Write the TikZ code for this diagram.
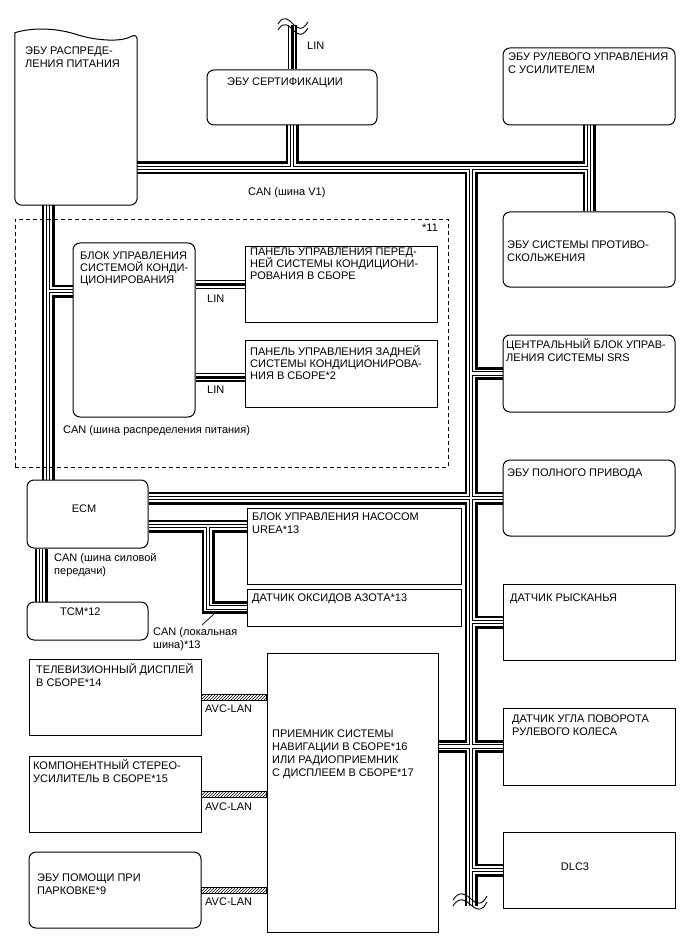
\documentclass[tikz,border=0pt]{standalone}
\usepackage{fontspec}
\setmainfont{Liberation Sans}
\usetikzlibrary{fit, patterns, backgrounds, calc}

% bus segments, drawn layer by layer so that junctions merge
\newcommand\canpaths{%
  (pd.east |- v1) -- (eps.south |- v1)
  (eps.south) -- (skid.north)
  (cert.south) -- (cert.south |- v1)
  (v1) -- (vend)
  (v1 |- srs.west) -- (srs.west)
  (ecm.east |- awd.west) -- (awd.west)
  (v1 |- yaw.west) -- (yaw.west)
  (nav.east |- angle.west) -- (angle.west)
  (v1 |- dlc.west) -- (dlc.west)
  (pd.south -| vL) -- (ecm.north -| vL)
  (vL) -- (ac.west |- vL)
  (ecm.south -| vT) -- (tcm.north -| vT)
  (ecm.east |- loc) -- (urea.west |- loc)
  (loc) |- (nox.west)}
\newcommand\linpaths{%
  (cert.north) -- (cert.north |- linTop)
  (ac.east |- front.west) -- (front.west)
  (ac.east |- linR) -- (rear.west |- linR)}

\begin{document}
\begin{tikzpicture}[x=1pt, y=-1pt,
    font=\fontsize{11}{13}\selectfont,
    ecu/.style  = {draw, line width=1pt, fill=white, rounded corners=7pt,
                   inner sep=0pt},
    unit/.style = {draw, line width=1pt, fill=white, inner sep=0pt},
    grp/.style  = {draw, line width=0.8pt, dash pattern=on 4pt off 3pt,
                   inner sep=0pt},
    txt/.style  = {anchor=north west, inner sep=0pt, align=left,
                   execute at begin node={\rule{0pt}{10pt}}},
    avc/.style  = {draw, line width=0.8pt, pattern=north east lines},
    brk/.style  = {line width=0.9pt}
]
\useasboundingbox (0,0) rectangle (688,949);

% Units on the left
\node[fit={(15,33) (137,205)}, inner sep=0pt] (pd) {};
\node[grp, fit={(15,219) (448,467)}] (grp11) {};
\node[ecu, fit={(73,243) (195,417)}] (ac) {};
\node[unit, fit={(245,247) (437,322)}] (front) {};
\node[unit, fit={(245,340) (437,407)}] (rear) {};
\node[ecu, fit={(27,480) (148,548)}] (ecm) {};
\node[ecu, fit={(27,602) (148,640)}] (tcm) {};
\node[unit, fit={(247,508) (461,584)}] (urea) {};
\node[unit, fit={(247,589) (461,626)}] (nox) {};
\node[unit, fit={(29,659) (201,735)}] (tv) {};
\node[unit, fit={(29,756) (201,832)}] (stereo) {};
\node[ecu, fit={(29,852) (201,928)}] (park) {};
\node[unit, fit={(267,653) (438,932)}] (nav) {};

% Units at the top and on the right
\node[ecu, fit={(207,70) (377,125)}] (cert) {};
\node[ecu, fit={(503,48) (675,125)}] (eps) {};
\node[ecu, fit={(503,212) (675,287)}] (skid) {};
\node[ecu, fit={(503,335) (675,412)}] (srs) {};
\node[ecu, fit={(503,460) (675,536)}] (awd) {};
\node[unit, fit={(503,584) (675,660)}] (yaw) {};
\node[unit, fit={(503,708) (675,785)}] (angle) {};
\node[unit, fit={(503,832) (675,908)}] (dlc) {};

% power distribution ECU with its torn top edge
\draw[line width=1pt, fill=white, rounded corners=7pt]
  (pd.north west) -- (pd.south west) -- (pd.south east) -- (pd.north east)
  [sharp corners] .. controls (122,42) and (98,41) .. (78,35)
  .. controls (58,28) and (32,27) .. (pd.north west) -- cycle;

% junction points of the buses
\coordinate (v1) at (471,168);
\coordinate (vend) at (471,906);
\coordinate (vL) at (48,291);
\coordinate (vT) at (41,0);
\coordinate (loc) at (208,526);
\coordinate (linTop) at (293,25);
\coordinate (linR) at (0,377);

\begin{scope}[on background layer]
  \foreach \lw/\lc in {13/black, 7.5/white, 4.5/black, 2.3/white}
    \draw[line width=\lw pt, draw=\lc] \canpaths;
  \foreach \lw/\lc in {9/black, 6/white, 3/black}
    \draw[line width=\lw pt, draw=\lc] \linpaths;
\end{scope}

% AVC-LAN links
\draw[avc] ($(tv.east)+(0,-3)$) rectangle ($(tv.east -| nav.west)+(0,3)$);
\draw[avc] ($(stereo.east)+(0,-3)$) rectangle ($(stereo.east -| nav.west)+(0,3)$);
\draw[avc] ($(park.east)+(0,-3)$) rectangle ($(park.east -| nav.west)+(0,3)$);

% line breaks
\draw[brk] (278,24) .. controls (284,14) and (289,20) .. (293,24)
  .. controls (297,28) and (302,32) .. (308,22);
\draw[brk] (278,30) .. controls (284,20) and (289,26) .. (293,30)
  .. controls (297,34) and (302,38) .. (308,28);
\draw[brk] (453,900) .. controls (459,890) and (466,894) .. (471,899)
  .. controls (476,904) and (482,906) .. (487,896);
\draw[brk] (453,906) .. controls (459,896) and (466,900) .. (471,905)
  .. controls (476,910) and (482,912) .. (487,902);

% unit texts
\node[txt] (pd-t) at (25,47) {ЭБУ РАСПРЕДЕ-\\ЛЕНИЯ ПИТАНИЯ};
\node[txt] (cert-t) at (227,75) {ЭБУ СЕРТИФИКАЦИИ};
\node[txt] (eps-t) at (508,53) {ЭБУ РУЛЕВОГО УПРАВЛЕНИЯ\\С УСИЛИТЕЛЕМ};
\node[txt] (skid-t) at (507,241) {ЭБУ СИСТЕМЫ ПРОТИВО-\\СКОЛЬЖЕНИЯ};
\node[txt] (srs-t) at (506,338) {ЦЕНТРАЛЬНЫЙ БЛОК УПРАВ-\\ЛЕНИЯ СИСТЕМЫ SRS};
\node[txt] (awd-t) at (507,466) {ЭБУ ПОЛНОГО ПРИВОДА};
\node[txt] (yaw-t) at (510,591) {ДАТЧИК РЫСКАНЬЯ};
\node[txt] (angle-t) at (512,715) {ДАТЧИК УГЛА ПОВОРОТА\\РУЛЕВОГО КОЛЕСА};
\node[inner sep=0pt] (dlc-t) at (575,867) {DLC3};
\node[txt] (ac-t) at (80,252) {БЛОК УПРАВЛЕНИЯ\\[-1pt]СИСТЕМОЙ КОНДИ-\\[-1pt]ЦИОНИРОВАНИЯ};
\node[txt] (front-t) at (250,248) {ПАНЕЛЬ УПРАВЛЕНИЯ ПЕРЕД-\\[-1pt]НЕЙ СИСТЕМЫ КОНДИЦИОНИ-\\[-1pt]РОВАНИЯ В СБОРЕ};
\node[txt] (rear-t) at (250,345) {ПАНЕЛЬ УПРАВЛЕНИЯ ЗАДНЕЙ\\[-1pt]СИСТЕМЫ КОНДИЦИОНИРОВА-\\[-1pt]НИЯ В СБОРЕ*2};
\node[inner sep=0pt] (ecm-t) at (84,509) {ECM};
\node[txt] (tcm-t) at (60,605) {TCM*12};
\node[txt] (urea-t) at (252,513) {БЛОК УПРАВЛЕНИЯ НАСОСОМ\\UREA*13};
\node[txt] (nox-t) at (252,591) {ДАТЧИК ОКСИДОВ АЗОТА*13};
\node[txt] (tv-t) at (36,663) {ТЕЛЕВИЗИОННЫЙ ДИСПЛЕЙ\\В СБОРЕ*14};
\node[txt] (stereo-t) at (33,759) {КОМПОНЕНТНЫЙ СТЕРЕО-\\УСИЛИТЕЛЬ В СБОРЕ*15};
\node[txt] (park-t) at (37,874) {ЭБУ ПОМОЩИ ПРИ\\ПАРКОВКЕ*9};
\node[txt] (nav-t) at (272,730) {ПРИЕМНИК СИСТЕМЫ\\НАВИГАЦИИ В СБОРЕ*16\\ИЛИ РАДИОПРИЕМНИК\\С ДИСПЛЕЕМ В СБОРЕ*17};

% bus labels
\node[txt] (linA) at (307,39) {LIN};
\node[txt] (canV1) at (248,185) {CAN (шина V1)};
\node[txt] (linB) at (207,292) {LIN};
\node[txt] (linC) at (207,383) {LIN};
\node[txt] (canPD) at (63,423) {CAN (шина распределения питания)};
\node[txt] (g11) at (422,221) {*11};
\node[txt] (canPT) at (54,553) {CAN (шина силовой\\передачи)};
\node[txt] (canloc) at (153,627) {CAN (локальная\\шина)*13};
\node[txt] (avcA) at (205,702) {AVC-LAN};
\node[txt] (avcB) at (205,800) {AVC-LAN};
\node[txt] (avcC) at (205,895) {AVC-LAN};

\coordinate (locnote) at (214,614);
\draw[line width=0.7pt] (locnote) -- ($(canloc.north west)+(49,-2)$);

\end{tikzpicture}
\end{document}
